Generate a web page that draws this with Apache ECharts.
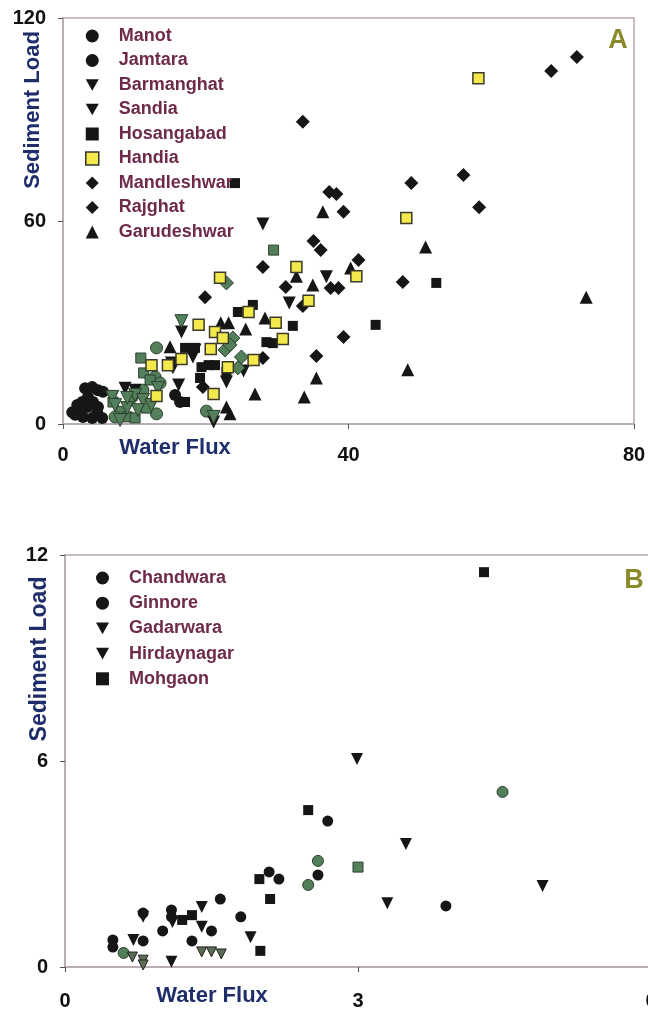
<!DOCTYPE html>
<html>
<head>
<meta charset="utf-8">
<script src="https://cdn.jsdelivr.net/npm/echarts@6/dist/echarts.min.js"></script>
<style>html,body{margin:0;padding:0;background:#fff}#c{width:648px;height:1010px}</style>
</head>
<body>
<div id="c"></div>
<script>
// ---------- Tick values ----------
var xTicksA = [0, 40, 80];
var yTicksA = [0, 60, 120];
var xTicksB = [0, 3, 6];
var yTicksB = [0, 6, 12];

// ---------- Panel A (Water Flux, Sediment Load) ----------
var manot = [[3.1,10.6],[4.1,10.9],[4.9,10.0],[5.6,9.5],[3.5,8.0],[2.7,6.5],[3.4,5.0],[2.1,4.1],[1.7,2.7],[2.8,2.1],[4.1,1.8],[4.8,3.3],[5.5,1.8],[1.3,3.5],[4.2,6.5],[2.0,5.6],[4.9,5.0],[15.7,8.6],[16.4,6.5]];
var jamtara = [[13.1,22.5],[13.1,3.0],[20.1,3.8],[12.9,13.9],[13.6,12.1],[8.0,3.5],[9.7,8.0],[11.2,10.0],[7.3,2.1]];
var barmanghat = [[28.0,59.1],[36.9,43.5],[31.7,35.8],[16.6,27.2],[18.2,19.8],[22.9,12.4],[16.2,11.5],[15.4,16.6],[25.3,15.7],[21.1,0.6],[8.7,10.6],[10.1,10.0],[18.5,21.9],[15.2,18.0]];
var sandia = [[16.6,30.4],[6.9,8.0],[7.3,5.6],[9.0,4.7],[10.1,8.6],[9.0,7.7],[11.2,7.1],[8.0,1.2],[10.5,4.1],[12.4,5.6],[13.3,10.6],[21.1,2.1]];
var hosangabad = [[52.3,41.7],[43.8,29.3],[24.1,71.2],[32.2,29.0],[26.6,35.2],[24.5,33.1],[28.5,24.2],[29.4,23.9],[17.1,22.5],[18.5,22.5],[19.4,16.8],[20.4,17.4],[21.3,17.4],[19.2,13.6],[17.1,6.5],[22.9,15.4]];
var hosangabadGreen = [[29.5,51.4],[10.9,19.5],[11.3,15.1],[12.2,13.0],[9.0,2.1],[10.1,1.8],[7.0,6.5],[11.7,4.7]];
var handia = [[58.2,102.2],[48.1,60.9],[41.1,43.7],[34.4,36.4],[32.7,46.4],[22.0,43.2],[29.8,29.9],[30.8,25.1],[19.0,29.3],[21.3,27.2],[22.4,25.4],[20.7,22.2],[23.1,16.8],[26.0,33.1],[26.7,18.9],[21.1,8.9],[16.6,19.2],[13.1,8.3],[12.4,17.4],[14.7,17.4]];
var mandleshwar = [[72.0,108.5],[68.4,104.3],[33.6,89.3],[37.3,68.6],[38.3,68.0],[48.8,71.2],[56.1,73.6],[58.3,64.1],[39.3,62.7],[35.1,54.1],[36.1,51.4],[41.4,48.5],[37.5,40.2],[38.6,40.2],[33.6,34.9],[47.6,42.0],[39.3,25.7],[35.5,20.1],[28.0,46.4],[31.2,40.5],[19.9,37.5],[28.0,19.5],[19.6,10.9]];
var rajghat = [[22.9,41.7],[23.8,25.4],[25.0,19.8],[24.5,16.6],[22.7,21.9],[23.4,23.4]];
var garudeshwar = [[73.3,37.5],[48.3,16.0],[50.8,52.3],[36.4,62.7],[40.3,46.1],[35.0,41.1],[35.5,13.6],[33.8,8.0],[32.7,43.7],[28.3,31.3],[25.6,28.1],[22.1,29.9],[23.2,29.9],[26.9,8.9],[22.9,5.0],[23.4,3.0],[15.0,22.8]];

// ---------- Panel B ----------
var chandwara = [[2.69,4.25],[3.90,1.78],[2.59,2.68],[2.09,2.77],[2.19,2.56],[1.59,1.98],[1.80,1.46],[1.50,1.05],[1.30,0.76],[1.00,1.05],[0.80,0.76],[0.80,1.57],[1.09,1.66],[1.09,1.46],[0.49,0.79],[0.49,0.58]];
var ginnore = [[4.48,5.1],[2.59,3.09],[2.49,2.39],[0.60,0.41]];
var gadarwara = [[2.99,6.06],[3.49,3.58],[3.30,1.86],[4.89,2.36],[1.40,1.75],[1.40,1.17],[1.90,0.87],[0.80,1.46],[0.70,0.79],[1.09,0.15],[1.10,1.31]];
var hirdaynagar = [[1.40,0.44],[1.50,0.44],[1.60,0.38],[0.69,0.29],[0.80,0.20],[0.80,0.06]];
var mohgaon = [[4.29,11.5],[2.49,4.57],[1.99,2.56],[2.10,1.98],[2.00,0.47],[1.30,1.51],[1.20,1.37]];
var mohgaonGreen = [[3.0,2.91]];

var legendA = ['Manot','Jamtara','Barmanghat','Sandia','Hosangabad','Handia','Mandleshwar','Rajghat','Garudeshwar'];
var legendB = ['Chandwara','Ginnore','Gadarwara','Hirdaynagar','Mohgaon'];

var FONT = "'Liberation Sans', Arial, sans-serif";
var BLACK = '#161616';
var GREEN = '#53805a';
var GREEN_B = '#2c3f2e';
var YELLOW = '#f3e84c';
var AXIS = '#b5a7b0';
var NAVY = '#1f2d6b';
var DOWN = 'path://M0,0L10,0L5,9Z';

function sc(name, data, sym, size, color, border, bw, gi, rot) {
  return {
    type: 'scatter', name: name, data: data,
    xAxisIndex: gi, yAxisIndex: gi,
    symbol: sym, symbolSize: size, symbolRotate: rot || 0,
    itemStyle: {color: color, borderColor: border, borderWidth: bw, opacity: 1},
    emphasis: {disabled: true}
  };
}

function axisCommon(ticks, gi, margin) {
  return {
    type: 'value', gridIndex: gi,
    min: ticks[0], max: ticks[ticks.length - 1], interval: ticks[1] - ticks[0],
    axisLine: {show: true, lineStyle: {color: AXIS, width: 1.5}},
    axisTick: {show: true, length: 5, lineStyle: {color: '#555', width: 1}},
    splitLine: {show: false},
    axisLabel: {color: '#111', fontFamily: FONT, fontSize: 20, fontWeight: 'bold', margin: margin}
  };
}

function legendItem(n, icon, color, border, bw) {
  return {name: n, icon: icon, itemStyle: {color: color, borderColor: border || color, borderWidth: bw || 0}};
}

var legendText = {color: '#6e2a4a', fontFamily: FONT, fontSize: 18, fontWeight: 'bold', padding: [0, 0, 0, 15]};

var chart = echarts.init(document.getElementById('c'), null, {renderer: 'canvas'});
var option = {
  animation: false,
  backgroundColor: '#fff',
  grid: [
    {left: 63, top: 18, width: 571, height: 406, show: true, borderColor: AXIS, borderWidth: 1.5, outerBoundsMode: 'none', containLabel: false},
    {left: 65, top: 555, width: 586, height: 412, show: true, borderColor: AXIS, borderWidth: 1.5, outerBoundsMode: 'none', containLabel: false}
  ],
  xAxis: [axisCommon(xTicksA, 0, 21), axisCommon(xTicksB, 1, 24)],
  yAxis: [axisCommon(yTicksA, 0, 17), axisCommon(yTicksB, 1, 17)],
  legend: [
    {
      orient: 'vertical', left: 80, top: 22, itemWidth: 13, itemHeight: 13, itemGap: 6.5,
      selectedMode: false, textStyle: legendText,
      data: [
        legendItem('Manot', 'circle', BLACK), legendItem('Jamtara', 'circle', BLACK),
        legendItem('Barmanghat', DOWN, BLACK), legendItem('Sandia', DOWN, BLACK),
        legendItem('Hosangabad', 'rect', BLACK), legendItem('Handia', 'rect', YELLOW, '#333', 1.5),
        legendItem('Mandleshwar', 'diamond', BLACK), legendItem('Rajghat', 'diamond', BLACK),
        legendItem('Garudeshwar', 'triangle', BLACK)
      ]
    },
    {
      orient: 'vertical', left: 91, top: 564, itemWidth: 13, itemHeight: 13, itemGap: 7.2,
      selectedMode: false, textStyle: legendText,
      data: [
        legendItem('Chandwara', 'circle', BLACK), legendItem('Ginnore', 'circle', BLACK),
        legendItem('Gadarwara', DOWN, BLACK), legendItem('Hirdaynagar', DOWN, BLACK),
        legendItem('Mohgaon', 'rect', BLACK)
      ]
    }
  ],
  graphic: [
    {type: 'text', x: 33, y: 110, rotation: Math.PI / 2, style: {text: 'Sediment Load', fill: NAVY, font: 'bold 22px ' + FONT, textAlign: 'center', textVerticalAlign: 'middle'}},
    {type: 'text', x: 40, y: 659, rotation: Math.PI / 2, style: {text: 'Sediment Load', fill: NAVY, font: 'bold 23px ' + FONT, textAlign: 'center', textVerticalAlign: 'middle'}},
    {type: 'text', x: 175, y: 448, style: {text: 'Water Flux', fill: NAVY, font: 'bold 22px ' + FONT, textAlign: 'center', textVerticalAlign: 'middle'}},
    {type: 'text', x: 212, y: 996, style: {text: 'Water Flux', fill: NAVY, font: 'bold 22px ' + FONT, textAlign: 'center', textVerticalAlign: 'middle'}},
    {type: 'text', x: 618, y: 41, style: {text: 'A', fill: '#8a8a2c', font: 'bold 27px ' + FONT, textAlign: 'center', textVerticalAlign: 'middle'}},
    {type: 'text', x: 634, y: 581, style: {text: 'B', fill: '#8a8a2c', font: 'bold 27px ' + FONT, textAlign: 'center', textVerticalAlign: 'middle'}}
  ],
  series: [
    sc('Manot', manot, 'circle', 12, BLACK, BLACK, 0, 0),
    sc('Jamtara', jamtara, 'circle', 12, GREEN, GREEN_B, 1, 0),
    sc('Hosangabad', hosangabad, 'rect', 10, BLACK, BLACK, 0, 0),
    sc('Hosangabad', hosangabadGreen, 'rect', 10, GREEN, GREEN_B, 1, 0),
    sc('Barmanghat', barmanghat, 'triangle', 13, BLACK, BLACK, 0, 0, 180),
    sc('Sandia', sandia, 'triangle', 13, GREEN, GREEN_B, 1, 0, 180),
    sc('Mandleshwar', mandleshwar, 'diamond', 14, BLACK, BLACK, 0, 0),
    sc('Rajghat', rajghat, 'diamond', 14, GREEN, GREEN_B, 1, 0),
    sc('Garudeshwar', garudeshwar, 'triangle', 13, BLACK, BLACK, 0, 0),
    sc('Handia', handia, 'rect', 11, YELLOW, '#3a3a2a', 1.5, 0),

    sc('Chandwara', chandwara, 'circle', 11, BLACK, BLACK, 0, 1),
    sc('Ginnore', ginnore, 'circle', 11, GREEN, GREEN_B, 1, 1),
    sc('Gadarwara', gadarwara, 'triangle', 12, BLACK, BLACK, 0, 1, 180),
    sc('Hirdaynagar', hirdaynagar, 'triangle', 10, '#5b6e55', '#222', 1, 1, 180),
    sc('Mohgaon', mohgaon, 'rect', 10, BLACK, BLACK, 0, 1),
    sc('Mohgaon', mohgaonGreen, 'rect', 10, GREEN, GREEN_B, 1, 1)
  ]
};
chart.setOption(option);
</script>
</body>
</html>
